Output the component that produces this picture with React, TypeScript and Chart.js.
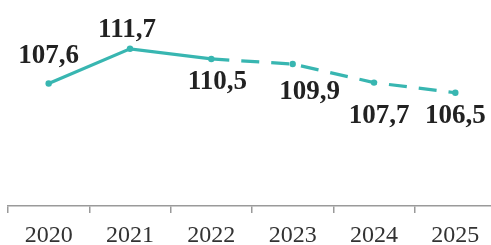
import React, { useEffect, useRef } from "react";
import { Chart, registerables } from "chart.js";

Chart.register(...registerables);

const years = ["2020", "2021", "2022", "2023", "2024", "2025"];
const values = [107.6, 111.7, 110.5, 109.9, 107.7, 106.5];
const valueLabels = ["107,6", "111,7", "110,5", "109,9", "107,7", "106,5"];
const firstForecastIndex = 2;
// label placement relative to each point: [dx, dy of text baseline]
const labelOffsets: [number, number][] = [
  [0, -20],
  [-3, -12],
  [6, 30],
  [17, 35],
  [5, 40],
  [0, 30],
];

const TEAL = "#38b6b1";

const labelPlugin = {
  id: "valueLabels",
  afterDatasetsDraw(chart: any) {
    const ctx = chart.ctx;
    const meta = chart.getDatasetMeta(0);
    ctx.save();
    ctx.font = "bold 27px 'Liberation Serif', 'Times New Roman', serif";
    ctx.fillStyle = "#222222";
    ctx.textAlign = "center";
    ctx.textBaseline = "alphabetic";
    meta.data.forEach((pt: any, i: number) => {
      const [dx, dy] = labelOffsets[i];
      ctx.fillText(valueLabels[i], pt.x + dx, pt.y + dy);
    });
    ctx.restore();
  },
};

export default function App() {
  const ref = useRef<HTMLCanvasElement | null>(null);
  useEffect(() => {
    if (!ref.current) return;
    const chart = new Chart(ref.current, {
      type: "line",
      data: {
        labels: years,
        datasets: [
          {
            data: values,
            borderColor: TEAL,
            backgroundColor: TEAL,
            borderWidth: 3.2,
            pointRadius: 3.2,
            pointBorderWidth: 0,
            pointBackgroundColor: TEAL,
            tension: 0,
            segment: {
              borderDash: (c: any) =>
                c.p0DataIndex >= firstForecastIndex ? [18, 12] : undefined,
            },
          },
        ],
      },
      options: {
        animation: false,
        responsive: false,
        maintainAspectRatio: false,
        layout: { padding: { left: 8, top: 0, right: 0, bottom: 0 } },
        plugins: { legend: { display: false }, tooltip: { enabled: false } },
        scales: {
          y: { display: false, min: 93.1, max: 117.0 },
          x: {
            offset: true,
            afterFit: (axis: any) => {
              axis.height = 39;
            },
            grid: {
              offset: true,
              drawOnChartArea: false,
              drawTicks: true,
              tickLength: 7,
              color: "#9a9a9a",
              lineWidth: 1.5,
            },
            border: { display: true, color: "#9a9a9a", width: 1.5 },
            ticks: {
              color: "#333333",
              padding: 8,
              maxRotation: 0,
              autoSkip: false,
              font: { family: "'Liberation Serif', 'Times New Roman', serif", size: 24 },
            },
          },
        },
      },
      plugins: [labelPlugin],
    });
    return () => chart.destroy();
  }, []);
  return (
    <div style={{ position: "absolute", left: 0, top: 0, width: 500, height: 245 }}>
      <canvas ref={ref} width={500} height={245} style={{ display: "block" }} />
    </div>
  );
}
